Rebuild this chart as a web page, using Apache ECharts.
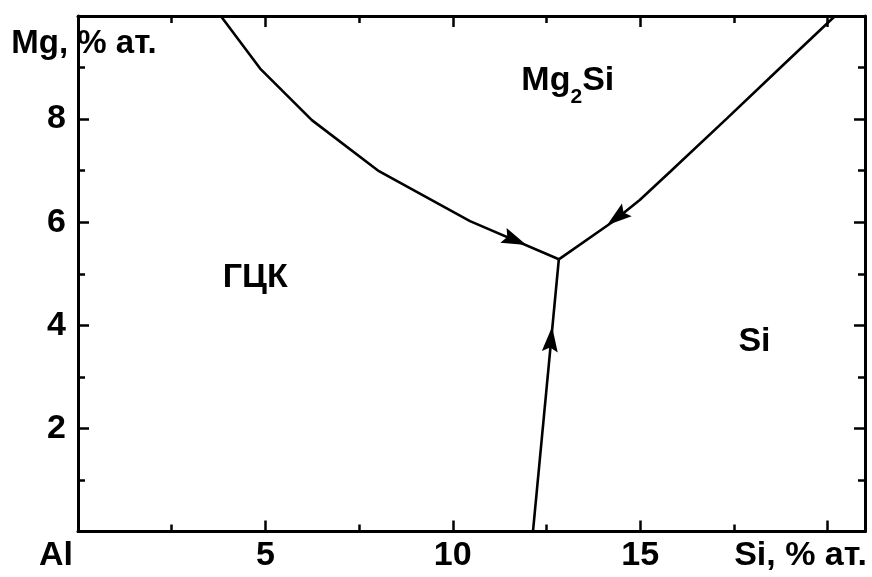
<!DOCTYPE html>
<html>
<head>
<meta charset="utf-8">
<script src="https://cdn.jsdelivr.net/npm/echarts@6/dist/echarts.min.js"></script>
<style>
  html, body { margin: 0; padding: 0; background: #fff; }
  #chart { width: 872px; height: 577px; }
</style>
</head>
<body>
<div id="chart"></div>
<script>
// Liquidus valleys of the Al–Mg–Si system (Si, % at. vs Mg, % at.)
const FCC_MG2SI_X = [3.81, 4.86, 6.24, 8.03, 10.46, 12.83];
const FCC_MG2SI_Y = [10.0, 8.98, 7.98, 6.99, 6.02, 5.28];

const MG2SI_SI_X = [20.2, 18.76, 17.31, 15.80, 14.99, 14.25, 12.83];
const MG2SI_SI_Y = [10.0, 9.01, 8.01, 6.98, 6.43, 6.0, 5.28];

const FCC_SI_X = [12.14, 12.83];
const FCC_SI_Y = [0.0, 5.28];

// arrow heads: centre of each head (ARROW_AT) and a point behind it on the same valley
const ARROW_FROM = [[10.46, 6.02], [14.99, 6.43], [12.14, 0.0]];
const ARROW_AT   = [[11.66, 5.65], [14.38, 6.09], [12.62, 3.73]];

// phase field names and their positions
const REGION_NAMES = ['Mg2Si', 'ГЦК', 'Si'];
const REGION_X = [13.07, 4.73, 18.05];
const REGION_Y = [8.74, 4.92, 3.68];

// axis tick labels
const X_TICK_LABELS = { 0: 'Al', 5: '5', 10: '10', 15: '15', 20: 'Si, % ат.' };
const Y_TICK_LABELS = { 2: '2', 4: '4', 6: '6', 8: '8' };
const Y_NAME = 'Mg, % ат.';

const FONT = '"Liberation Sans", Arial, sans-serif';
const FS = 34;

const zip = (xs, ys) => xs.map((x, i) => [x, ys[i]]);

const chart = echarts.init(document.getElementById('chart'), null, { renderer: 'canvas' });

const axisCommon = {
  type: 'value',
  axisLine: { show: true, onZero: false, lineStyle: { color: '#000', width: 3 } },
  axisTick: { show: true, inside: true, length: 11, lineStyle: { color: '#000', width: 2.5 } },
  minorTick: { show: true, splitNumber: 2, length: 7, lineStyle: { color: '#000', width: 2.5 } },
  splitLine: { show: false },
  minorSplitLine: { show: false }
};

// arrow head pointing up; rotated along each valley below
const arrowPath = 'path://M0,0 L8,24 L0,20 L-8,24 Z';

const textStyle = { fontFamily: FONT, fontWeight: 'bold', color: '#000', textBorderWidth: 0 };

function buildOption(rotations) {
  return {
    backgroundColor: '#fff',
    animation: false,
    grid: { left: 78, right: 7, top: 16, bottom: 45.5, containLabel: false, outerBoundsMode: 'none' },
    xAxis: [
      Object.assign({}, axisCommon, {
        position: 'bottom',
        min: 0, max: 21, interval: 5,
        axisLabel: Object.assign({}, textStyle, {
          show: true,
          margin: 7,
          fontSize: FS,
          formatter: v => {
            const t = X_TICK_LABELS[v];
            if (t === undefined) return '';
            if (v === 0) return '{al|' + t + '}';
            if (v === 20) return '{si|' + t + '}';
            return t;
          },
          rich: {
            al: Object.assign({}, textStyle, { fontSize: FS, padding: [0, 44, 0, 0] }),
            si: Object.assign({}, textStyle, { fontSize: FS, padding: [0, 54, 0, 0] })
          }
        })
      }),
      Object.assign({}, axisCommon, {
        position: 'top',
        min: 0, max: 21, interval: 5,
        axisLabel: { show: false }
      })
    ],
    yAxis: [
      Object.assign({}, axisCommon, {
        position: 'left',
        min: 0, max: 10, interval: 2,
        name: Y_NAME,
        nameLocation: 'end',
        nameGap: -28,
        nameTextStyle: Object.assign({}, textStyle, {
          fontSize: 33,
          align: 'center', verticalAlign: 'middle',
          backgroundColor: '#fff',
          padding: [6, 0, 6, 12]
        }),
        axisLabel: Object.assign({}, textStyle, {
          show: true, margin: 12,
          fontSize: FS,
          formatter: v => (Y_TICK_LABELS[v] !== undefined ? Y_TICK_LABELS[v] : '')
        })
      }),
      Object.assign({}, axisCommon, {
        position: 'right',
        min: 0, max: 10, interval: 2,
        axisLabel: { show: false }
      })
    ],
    series: [
      {
        type: 'line', name: 'ГЦК/Mg2Si', data: zip(FCC_MG2SI_X, FCC_MG2SI_Y),
        showSymbol: false, smooth: false, clip: true,
        lineStyle: { color: '#000', width: 2.6 }
      },
      {
        type: 'line', name: 'Mg2Si/Si', data: zip(MG2SI_SI_X, MG2SI_SI_Y),
        showSymbol: false, smooth: false, clip: true,
        lineStyle: { color: '#000', width: 2.6 }
      },
      {
        type: 'line', name: 'ГЦК/Si', data: zip(FCC_SI_X, FCC_SI_Y),
        showSymbol: false, smooth: false, clip: true,
        lineStyle: { color: '#000', width: 2.6 }
      },
      {
        type: 'scatter', name: 'arrows',
        symbol: arrowPath,
        symbolSize: [16, 25],
        itemStyle: { color: '#000', opacity: 1 },
        data: ARROW_AT.map((p, i) => ({ value: p, symbolRotate: rotations[i] })),
        z: 5
      },
      {
        type: 'scatter', name: 'fields',
        symbolSize: 1,
        itemStyle: { color: 'rgba(255,255,255,0)' },
        data: REGION_NAMES.map((n, i) => ({ name: n, value: [REGION_X[i], REGION_Y[i]] })),
        label: Object.assign({}, textStyle, {
          show: true, position: 'inside',
          fontSize: FS,
          opacity: 1,
          formatter: p => p.name === 'Mg2Si' ? '{b|Mg}{s|2}{b|Si}' : p.name,
          rich: {
            b: Object.assign({}, textStyle, { fontSize: FS, lineHeight: 53, verticalAlign: 'middle' }),
            s: Object.assign({}, textStyle, { fontSize: 21, lineHeight: 21, verticalAlign: 'bottom' })
          }
        })
      }
    ]
  };
}

// first pass lays out the axes, then the arrow angles follow each valley in pixels
chart.setOption(buildOption(ARROW_AT.map(() => 0)));
const rotations = ARROW_AT.map((p, i) => {
  const a = chart.convertToPixel({ gridIndex: 0 }, ARROW_FROM[i]);
  const b = chart.convertToPixel({ gridIndex: 0 }, p);
  const dx = b[0] - a[0];
  const dyUp = a[1] - b[1];
  return Math.atan2(-dx, dyUp) * 180 / Math.PI;
});
chart.setOption(buildOption(rotations));
</script>
</body>
</html>
